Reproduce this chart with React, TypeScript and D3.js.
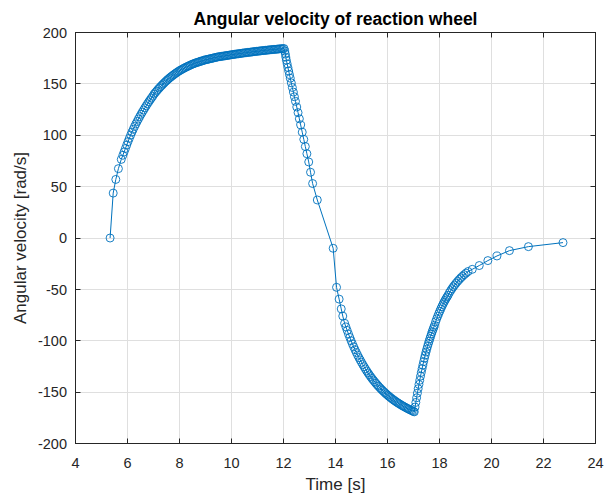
import React from "react";
import * as d3 from "d3";

// [time s, angular velocity rad/s]
const riseSegment: [number, number][] = [
  [5.33, 0], [5.45, 43.7], [5.55, 57], [5.65, 67.5], [5.76, 76.5], [5.82, 80.5],
  [5.87, 83.8], [5.92, 87.1], [5.97, 90.5], [6.02, 93.8], [6.07, 97.0], [6.12, 100.1],
  [6.17, 103.0], [6.22, 105.8], [6.27, 108.5], [6.32, 111.0], [6.37, 113.4], [6.42, 115.8],
  [6.47, 118.1], [6.52, 120.4], [6.57, 122.5], [6.62, 124.6], [6.67, 126.7], [6.72, 128.7],
  [6.77, 130.7], [6.82, 132.6], [6.87, 134.4], [6.92, 136.2], [6.97, 138.0], [7.02, 140.0],
  [7.07, 141.5], [7.12, 143.0], [7.17, 144.5], [7.22, 145.9], [7.27, 147.3], [7.32, 148.6],
  [7.37, 149.9], [7.42, 151.2], [7.47, 152.4], [7.52, 153.6], [7.57, 154.7], [7.62, 155.8],
  [7.67, 156.8], [7.72, 157.8], [7.77, 158.8], [7.82, 159.7], [7.87, 160.6], [7.92, 161.5],
  [7.97, 162.3], [8.02, 163.1], [8.07, 163.8], [8.12, 164.5], [8.17, 165.2], [8.22, 165.9],
  [8.27, 166.5], [8.32, 167.1], [8.37, 167.7], [8.42, 168.3], [8.47, 168.9], [8.52, 169.4],
  [8.57, 169.9], [8.62, 170.4], [8.67, 170.8], [8.72, 171.2], [8.77, 171.6], [8.82, 172.0],
  [8.87, 172.4], [8.92, 172.8], [8.97, 173.2], [9.02, 173.5], [9.07, 173.8], [9.12, 174.1],
  [9.17, 174.4], [9.22, 174.7], [9.27, 175.0], [9.32, 175.3], [9.37, 175.6], [9.42, 175.9],
  [9.47, 176.2], [9.52, 176.4], [9.57, 176.6], [9.62, 176.8], [9.67, 177.0], [9.72, 177.2],
  [9.77, 177.4], [9.82, 177.6], [9.87, 177.8], [9.92, 178.0], [9.97, 178.2], [10.02, 178.4],
  [10.07, 178.6], [10.12, 178.8], [10.17, 179.0], [10.22, 179.2], [10.27, 179.3], [10.32, 179.5],
  [10.37, 179.7], [10.42, 179.9], [10.47, 180.1], [10.52, 180.2], [10.57, 180.4], [10.62, 180.6],
  [10.67, 180.7], [10.72, 180.9], [10.77, 181.0], [10.82, 181.2], [10.87, 181.4], [10.92, 181.5],
  [10.97, 181.7], [11.02, 181.8], [11.07, 182.0], [11.12, 182.1], [11.17, 182.3], [11.22, 182.4],
  [11.27, 182.5], [11.32, 182.7], [11.37, 182.8], [11.42, 183.0], [11.47, 183.1], [11.52, 183.2],
  [11.57, 183.4], [11.62, 183.5], [11.67, 183.6], [11.72, 183.7], [11.77, 183.8], [11.82, 184.0],
  [11.87, 184.1], [11.92, 184.2], [11.97, 184.3], [12.02, 184.4],
];

const fallSegment: [number, number][] = [
  [12.05, 182], [12.07, 179], [12.09, 176], [12.11, 173], [12.14, 169.5], [12.17, 166],
  [12.20, 162.5], [12.23, 159], [12.26, 155.5], [12.30, 151], [12.34, 146.5], [12.38, 142],
  [12.42, 137.5], [12.46, 133], [12.51, 127.5], [12.56, 122], [12.61, 116], [12.66, 110],
  [12.72, 103], [12.78, 96], [12.84, 89], [12.90, 82], [12.97, 74], [13.04, 64], [13.12, 53],
  [13.30, 37], [13.91, -10], [14.04, -48], [14.14, -59.5], [14.22, -69], [14.28, -76],
  [14.35, -83], [14.40, -86.5], [14.45, -90], [14.50, -93.5], [14.55, -96.8], [14.60, -100],
  [14.65, -103], [14.70, -105.9], [14.75, -108.7], [14.80, -111.4], [14.85, -114],
  [14.90, -116.4], [14.95, -118.7], [15.00, -121], [15.05, -123.2], [15.10, -125.3],
  [15.15, -127.4], [15.20, -129.4], [15.25, -131.3], [15.30, -133.1], [15.35, -134.9],
  [15.40, -136.6], [15.45, -138.2], [15.50, -139.8], [15.55, -141.3], [15.60, -142.8],
  [15.65, -144.2], [15.70, -145.6], [15.75, -146.9], [15.80, -148.2], [15.85, -149.4],
  [15.90, -150.6], [15.95, -151.8], [16.00, -152.9], [16.05, -154.0], [16.10, -155.0],
  [16.15, -156.0], [16.20, -157.0], [16.25, -157.9], [16.30, -158.8], [16.35, -159.7],
  [16.40, -160.5], [16.45, -161.3], [16.50, -162.1], [16.55, -162.9], [16.60, -163.6],
  [16.65, -164.3], [16.70, -165.0], [16.75, -165.7], [16.80, -166.4], [16.85, -167.0],
  [16.90, -167.6], [16.95, -168.2], [17.00, -168.8], [17.03, -169.2],
];

const recoverySegment: [number, number][] = [
  [17.06, -164.5], [17.09, -160], [17.12, -155.5], [17.15, -151], [17.18, -146.7],
  [17.21, -142.5], [17.24, -138.5], [17.27, -134.5], [17.30, -130.8], [17.33, -127.2],
  [17.36, -123.7], [17.39, -120.3], [17.42, -117], [17.45, -114], [17.48, -111],
  [17.51, -108.2], [17.54, -105.5], [17.57, -102.9], [17.60, -100.4], [17.63, -98],
  [17.66, -95.6], [17.69, -93.3], [17.72, -91.1], [17.75, -89], [17.78, -86.9],
  [17.81, -84.9], [17.85, -81.5], [17.89, -78.8], [17.93, -76.2], [17.97, -73.7],
  [18.01, -71.3], [18.05, -69], [18.09, -66.8], [18.13, -64.7], [18.17, -62.7],
  [18.21, -60.8], [18.25, -59], [18.29, -57.3], [18.33, -55.7], [18.38, -53.2],
  [18.43, -51.2], [18.48, -49.3], [18.53, -47.5], [18.58, -45.8], [18.64, -43.9],
  [18.70, -42.1], [18.76, -40.4], [18.82, -38.8], [18.88, -37.3], [18.95, -35.7],
  [19.02, -34.2], [19.10, -32.6], [19.26, -30.5], [19.53, -26.8], [19.86, -22],
  [20.21, -17.5], [20.69, -12.3], [21.42, -8.4], [22.75, -4.5],
];

const xTicks = [4, 6, 8, 10, 12, 14, 16, 18, 20, 22, 24];
const yTicks = [-200, -150, -100, -50, 0, 50, 100, 150, 200];

const titleText = "Angular velocity of reaction wheel";
const xLabelText = "Time [s]";
const yLabelText = "Angular velocity [rad/s]";

const W = 605;
const H = 497;
const FONT = "'Liberation Sans', Arial, Helvetica, sans-serif";
const AX = "#262626";
const BLUE = "#0072BD";

export default function App() {
  const data = [...riseSegment, ...fallSegment, ...recoverySegment];
  const x = d3.scaleLinear().domain([4, 24]).range([75.5, 595.5]);
  const y = d3.scaleLinear().domain([-200, 200]).range([443.5, 32.5]);
  const [x0, x1] = x.range();
  const [y0, y1] = y.range();
  const line = d3
    .line<[number, number]>()
    .x((d) => x(d[0]))
    .y((d) => y(d[1]));
  const tl = 5;

  return (
    <svg
      width={W}
      height={H}
      style={{ position: "absolute", left: 0, top: 0, background: "#fff" }}
      fontFamily={FONT}
    >
      <rect x={0} y={0} width={W} height={H} fill="#fff" />
      {/* grid */}
      <g stroke="#dfdfdf" strokeWidth={1}>
        {xTicks.map((t) => (
          <line key={"gx" + t} x1={Math.round(x(t) - 0.5) + 0.5} x2={Math.round(x(t) - 0.5) + 0.5} y1={y1} y2={y0} />
        ))}
        {yTicks.map((t) => (
          <line key={"gy" + t} x1={x0} x2={x1} y1={Math.round(y(t) - 0.5) + 0.5} y2={Math.round(y(t) - 0.5) + 0.5} />
        ))}
      </g>
      {/* data */}
      <path d={line(data) || ""} fill="none" stroke={BLUE} strokeWidth={1} />
      <g fill="none" stroke={BLUE} strokeWidth={0.9}>
        {data.map((d, i) => (
          <circle key={i} cx={x(d[0])} cy={y(d[1])} r={4} />
        ))}
      </g>
      {/* box & ticks */}
      <g stroke={AX} strokeWidth={1} fill="none">
        <rect x={x0} y={y1} width={x1 - x0} height={y0 - y1} />
        {xTicks.map((t) => {
          const px = Math.round(x(t) - 0.5) + 0.5;
          return (
            <g key={"tx" + t}>
              <line x1={px} x2={px} y1={y0} y2={y0 - tl} />
              <line x1={px} x2={px} y1={y1} y2={y1 + tl} />
            </g>
          );
        })}
        {yTicks.map((t) => {
          const py = Math.round(y(t) - 0.5) + 0.5;
          return (
            <g key={"ty" + t}>
              <line x1={x0} x2={x0 + tl} y1={py} y2={py} />
              <line x1={x1} x2={x1 - tl} y1={py} y2={py} />
            </g>
          );
        })}
      </g>
      {/* tick labels */}
      <g fill={AX} fontSize={14.5}>
        {xTicks.map((t) => (
          <text key={"lx" + t} x={x(t)} y={467.5} textAnchor="middle">
            {t}
          </text>
        ))}
        {yTicks.map((t) => (
          <text key={"ly" + t} x={67} y={y(t) + 5.2} textAnchor="end">
            {t}
          </text>
        ))}
      </g>
      <text x={(x0 + x1) / 2} y={490} textAnchor="middle" fontSize={17} fill={AX}>
        {xLabelText}
      </text>
      <text
        transform={`translate(26, ${(y0 + y1) / 2}) rotate(-90)`}
        textAnchor="middle"
        fontSize={17}
        fill={AX}
      >
        {yLabelText}
      </text>
      <text x={(x0 + x1) / 2} y={25} textAnchor="middle" fontSize={17.5} fontWeight="bold" fill="#000">
        {titleText}
      </text>
    </svg>
  );
}
